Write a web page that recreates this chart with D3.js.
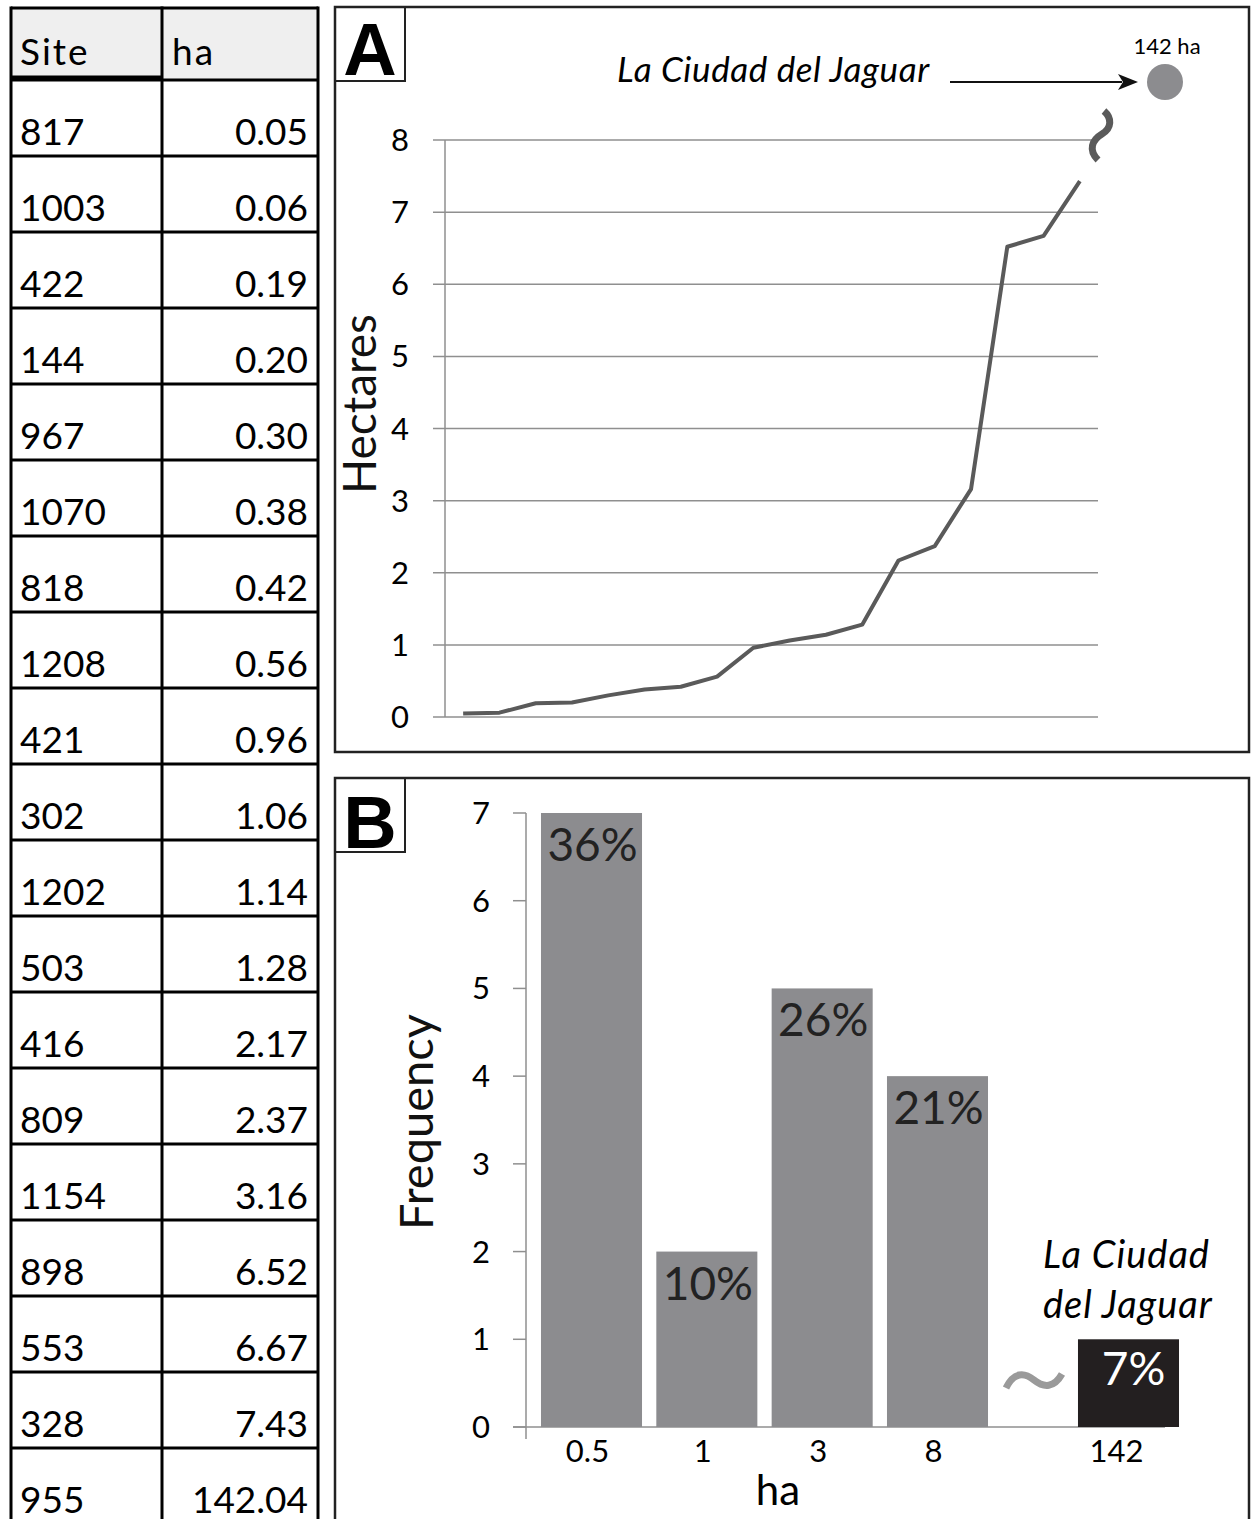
<!DOCTYPE html>
<html>
<head>
<meta charset="utf-8">
<script src="https://cdn.jsdelivr.net/npm/d3@7"></script>
<style>
  body { margin: 0; background: #fff; }
  svg text { font-family: Lato, "Open Sans", sans-serif; }
</style>
</head>
<body>
<div class="chart"></div>
<script>
// Site table (sorted by size)
var sites = ["817", "1003", "422", "144", "967", "1070", "818", "1208", "421", "302",
  "1202", "503", "416", "809", "1154", "898", "553", "328", "955"];
var hectares = ["0.05", "0.06", "0.19", "0.20", "0.30", "0.38", "0.42", "0.56", "0.96", "1.06",
  "1.14", "1.28", "2.17", "2.37", "3.16", "6.52", "6.67", "7.43", "142.04"];

// Panel A ticks
var ticksA = [0, 1, 2, 3, 4, 5, 6, 7, 8];

// Panel B histogram
var bins = ["0.5", "1", "3", "8"];
var freq = [7, 2, 5, 4];
var pct = ["36%", "10%", "26%", "21%"];
var outlierBin = "142";
var outlierFreq = 1;
var outlierPct = "7%";
var ticksB = [0, 1, 2, 3, 4, 5, 6, 7];

var svgWidth = 1256, svgHeight = 1519;

var svg = d3.select(".chart")
  .append("svg")
  .attr("width", svgWidth)
  .attr("height", svgHeight);

// ---------- Table ----------
var table = svg.append("g");
var rowH = 76, headTop = 8, headBot = 80;
var colL = 11, colM = 162, colR = 318;

table.append("rect")
  .attr("x", colL).attr("y", headTop)
  .attr("width", colR - colL).attr("height", headBot - headTop)
  .attr("fill", "#efefef");

var rowsY = d3.range(sites.length + 1).map(i => headBot + i * rowH);

table.selectAll(".rowline")
  .data(rowsY)
  .enter()
  .append("line")
  .attr("x1", colL).attr("x2", colR)
  .attr("y1", d => d).attr("y2", d => d)
  .attr("stroke", "#000")
  .attr("stroke-width", 3);

// thick line under the header
table.append("line")
  .attr("x1", colL).attr("x2", colM)
  .attr("y1", headBot - 2).attr("y2", headBot - 2)
  .attr("stroke", "#000").attr("stroke-width", 5);

table.append("line")
  .attr("x1", colL).attr("x2", colR)
  .attr("y1", headTop).attr("y2", headTop)
  .attr("stroke", "#000").attr("stroke-width", 3);

[colL, colM, colR].forEach(function(x) {
  table.append("line")
    .attr("x1", x).attr("x2", x)
    .attr("y1", headTop - 1.5).attr("y2", svgHeight + 5)
    .attr("stroke", "#000").attr("stroke-width", 3);
});

table.append("text")
  .attr("x", 20).attr("y", 65)
  .attr("font-size", 37)
  .attr("letter-spacing", 2)
  .text("Site");
table.append("text")
  .attr("x", 172).attr("y", 65)
  .attr("font-size", 37)
  .attr("letter-spacing", 2)
  .text("ha");

table.selectAll(".siteText")
  .data(sites)
  .enter()
  .append("text")
  .attr("x", 20)
  .attr("y", (d, i) => headBot + i * rowH + 65)
  .attr("font-size", 37)
  .text(d => d);

table.selectAll(".haText")
  .data(hectares)
  .enter()
  .append("text")
  .attr("x", 308)
  .attr("y", (d, i) => headBot + i * rowH + 65)
  .attr("font-size", 37)
  .attr("text-anchor", "end")
  .text(d => d);

// ---------- Panel frames ----------
function panelFrame(y0, y1, letter, ly) {
  svg.append("rect")
    .attr("x", 335).attr("y", y0)
    .attr("width", 914).attr("height", y1 - y0)
    .attr("fill", "none").attr("stroke", "#222").attr("stroke-width", 2.5);
  svg.append("rect")
    .attr("x", 335).attr("y", y0)
    .attr("width", 70).attr("height", 74)
    .attr("fill", "none").attr("stroke", "#222").attr("stroke-width", 2);
  svg.append("text")
    .attr("x", 370).attr("y", ly)
    .attr("text-anchor", "middle")
    .attr("font-size", 74)
    .attr("font-weight", "bold")
    .style("font-family", "'Liberation Sans', Arial, sans-serif")
    .text(letter);
}
panelFrame(7, 752, "A", 75);
panelFrame(778, svgHeight + 10, "B", 848);

// ---------- Panel A: line chart ----------
var lineData = hectares.slice(0, hectares.length - 1).map((d, i) => ({ site: sites[i], ha: +d }));

var xA = d3.scaleBand()
  .domain(lineData.map(d => d.site))
  .range([445, 1098]);

var yA = d3.scaleLinear()
  .domain([0, 8])
  .range([717, 140]);

var gA = svg.append("g");

gA.selectAll(".gridA")
  .data(ticksA)
  .enter()
  .append("line")
  .attr("x1", 433).attr("x2", 1098)
  .attr("y1", d => yA(d)).attr("y2", d => yA(d))
  .attr("stroke", "#8f8f8f").attr("stroke-width", 1.5);

gA.append("line")
  .attr("x1", 445).attr("x2", 445)
  .attr("y1", yA(8)).attr("y2", yA(0))
  .attr("stroke", "#8f8f8f").attr("stroke-width", 1.5);

gA.selectAll(".tickA")
  .data(ticksA)
  .enter()
  .append("text")
  .attr("x", 400)
  .attr("y", d => yA(d) + 11)
  .attr("text-anchor", "middle")
  .attr("font-size", 31)
  .text(d => d);

gA.append("text")
  .attr("transform", "translate(376, 404) rotate(-90)")
  .attr("text-anchor", "middle")
  .attr("font-size", 46)
  .attr("fill", "#111")
  .text("Hectares");

var line = d3.line()
  .x(d => xA(d.site) + xA.bandwidth() / 2)
  .y(d => yA(d.ha));

gA.append("path")
  .datum(lineData)
  .attr("d", line)
  .attr("fill", "none")
  .attr("stroke", "#5a5a5a")
  .attr("stroke-width", 4)
  .attr("stroke-linejoin", "round");

// break mark and the outlier point
gA.append("path")
  .attr("d", "M1098,160 C1088,150 1092,140 1102,134 C1112,128 1112,118 1104,111")
  .attr("fill", "none")
  .attr("stroke", "#5a5a5a")
  .attr("stroke-width", 7);

gA.append("circle")
  .attr("cx", 1165).attr("cy", 82).attr("r", 18)
  .attr("fill", "#8c8c8f");

gA.append("text")
  .attr("x", 1167).attr("y", 54)
  .attr("text-anchor", "middle")
  .attr("font-size", 22)
  .text("142 ha");

gA.append("text")
  .attr("x", 617).attr("y", 82)
  .attr("font-size", 35)
  .attr("letter-spacing", 0.6)
  .attr("font-style", "italic")
  .text("La Ciudad del Jaguar");

gA.append("line")
  .attr("x1", 950).attr("x2", 1122)
  .attr("y1", 82).attr("y2", 82)
  .attr("stroke", "#111").attr("stroke-width", 2);

gA.append("path")
  .attr("d", "M1138,82 L1118,74 L1123,82 L1118,90 Z")
  .attr("fill", "#111");

// ---------- Panel B: histogram ----------
var xB = d3.scaleBand()
  .domain(bins)
  .range([526, 1003])
  .paddingInner(0.124)
  .paddingOuter(0.13);

var yB = d3.scaleLinear()
  .domain([0, 7])
  .range([1427, 813]);

var breakShift = 191; // offset of the broken 142 ha bin after the last bin
var gB = svg.append("g");

gB.append("line")
  .attr("x1", 526).attr("x2", 526)
  .attr("y1", yB(7)).attr("y2", yB(0) + 12)
  .attr("stroke", "#8f8f8f").attr("stroke-width", 1.5);

gB.append("line")
  .attr("x1", 513).attr("x2", 1165)
  .attr("y1", yB(0)).attr("y2", yB(0))
  .attr("stroke", "#8f8f8f").attr("stroke-width", 1.5);

gB.selectAll(".tickmarkB")
  .data(ticksB)
  .enter()
  .append("line")
  .attr("x1", 513).attr("x2", 526)
  .attr("y1", d => yB(d)).attr("y2", d => yB(d))
  .attr("stroke", "#8f8f8f").attr("stroke-width", 1.5);

gB.selectAll(".tickB")
  .data(ticksB)
  .enter()
  .append("text")
  .attr("x", 481)
  .attr("y", d => yB(d) + 11)
  .attr("text-anchor", "middle")
  .attr("font-size", 31)
  .text(d => d);

gB.append("text")
  .attr("transform", "translate(433, 1122) rotate(-90)")
  .attr("text-anchor", "middle")
  .attr("font-size", 47)
  .attr("fill", "#111")
  .text("Frequency");

gB.selectAll(".bar")
  .data(bins)
  .enter()
  .append("rect")
  .attr("x", d => xB(d))
  .attr("y", (d, i) => yB(freq[i]))
  .attr("width", xB.bandwidth())
  .attr("height", (d, i) => yB(0) - yB(freq[i]))
  .attr("fill", "#8c8c8f");

gB.selectAll(".pct")
  .data(bins)
  .enter()
  .append("text")
  .attr("x", d => xB(d) + xB.bandwidth() / 2 + 1)
  .attr("y", (d, i) => yB(freq[i]) + 48)
  .attr("text-anchor", "middle")
  .attr("font-size", 46)
  .attr("fill", "#222")
  .text((d, i) => pct[i]);

gB.selectAll(".binLabel")
  .data(bins)
  .enter()
  .append("text")
  .attr("x", d => xB(d) + xB.bandwidth() / 2 - 4)
  .attr("y", 1462)
  .attr("text-anchor", "middle")
  .attr("font-size", 31)
  .text(d => d);

// outlier bin
var outX = xB(bins[bins.length - 1]) + breakShift;
gB.append("rect")
  .attr("x", outX)
  .attr("y", yB(outlierFreq))
  .attr("width", xB.bandwidth())
  .attr("height", yB(0) - yB(outlierFreq))
  .attr("fill", "#231f20");

gB.append("text")
  .attr("x", outX + xB.bandwidth() / 2 + 5)
  .attr("y", yB(outlierFreq) + 46)
  .attr("text-anchor", "middle")
  .attr("font-size", 46)
  .attr("fill", "#fff")
  .text(outlierPct);

gB.append("text")
  .attr("x", outX + xB.bandwidth() / 2 - 12)
  .attr("y", 1462)
  .attr("text-anchor", "middle")
  .attr("font-size", 31)
  .text(outlierBin);

gB.append("path")
  .attr("d", "M1006,1388 C1014,1372 1024,1372 1034,1380 C1044,1388 1054,1388 1062,1374")
  .attr("fill", "none")
  .attr("stroke", "#9a9a9a")
  .attr("stroke-width", 7);

gB.append("text")
  .attr("x", 1043).attr("y", 1268)
  .attr("font-size", 38)
  .attr("letter-spacing", 1)
  .attr("font-style", "italic")
  .text("La Ciudad");
gB.append("text")
  .attr("x", 1043).attr("y", 1318)
  .attr("font-size", 38)
  .attr("letter-spacing", 1)
  .attr("font-style", "italic")
  .text("del Jaguar");

gB.append("text")
  .attr("x", 778).attr("y", 1505)
  .attr("text-anchor", "middle")
  .attr("font-size", 42)
  .text("ha");
</script>
</body>
</html>
